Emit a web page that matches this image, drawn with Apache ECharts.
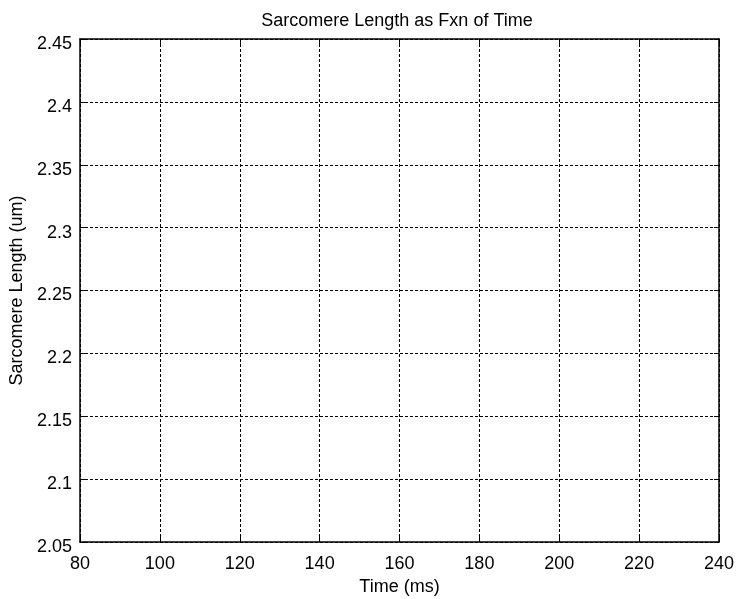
<!DOCTYPE html>
<html>
<head>
<meta charset="utf-8">
<script src="https://cdn.jsdelivr.net/npm/echarts@6/dist/echarts.min.js"></script>
<style>
html,body{margin:0;padding:0;background:#fff;}
#main{width:738px;height:599px;}
</style>
</head>
<body>
<div id="main"></div>
<script>
// axis ranges / ticks
var xTicks = [80, 100, 120, 140, 160, 180, 200, 220, 240];
var yTicks = [2.05, 2.1, 2.15, 2.2, 2.25, 2.3, 2.35, 2.4, 2.45];
// the plot shows no data line
var timeMs = [];
var sarcLen = [];

var font = '"Liberation Sans", Arial, sans-serif';

function fmt(v){ return String(parseFloat(v.toFixed(2))); }

var myChart = echarts.init(document.getElementById('main'));

var baseX = {
    type: 'value',
    min: xTicks[0],
    max: xTicks[xTicks.length - 1],
    interval: xTicks[1] - xTicks[0],
    axisLine: {show: true, lineStyle: {color: '#000', width: 1.5}},
    axisTick: {show: true, inside: true, length: 5, lineStyle: {color: '#000'}}
};
var baseY = {
    type: 'value',
    min: yTicks[0],
    max: yTicks[yTicks.length - 1],
    interval: 0.05,
    axisLine: {show: true, lineStyle: {color: '#000', width: 1.5}},
    axisTick: {show: true, inside: true, length: 5, lineStyle: {color: '#000'}}
};

var option = {
    animation: false,
    backgroundColor: '#fff',
    title: {
        text: 'Sarcomere Length as Fxn of Time',
        left: 392, top: 7, textAlign: 'center',
        textStyle: {fontFamily: font, fontSize: 18, fontWeight: 'normal', color: '#000'}
    },
    grid: {left: 80, top: 39, right: 19, bottom: 57, containLabel: false, outerBoundsMode: 'none'},
    xAxis: [
        Object.assign({}, baseX, {
            position: 'bottom',
            name: 'Time (ms)', nameLocation: 'middle', nameGap: 36,
            nameTextStyle: {fontFamily: font, fontSize: 18, color: '#000'},
            axisLabel: {margin: 13, fontFamily: font, fontSize: 18, color: '#000'},
            splitLine: {show: true, lineStyle: {color: '#000', type: [3, 2], width: 1}}
        }),
        Object.assign({}, baseX, {
            position: 'top',
            axisLabel: {show: false},
            splitLine: {show: false}
        })
    ],
    yAxis: [
        Object.assign({}, baseY, {
            position: 'left',
            name: 'Sarcomere Length (um)', nameLocation: 'middle', nameGap: 52,
            nameTextStyle: {fontFamily: font, fontSize: 18, color: '#000'},
            axisLabel: {margin: 8, fontFamily: font, fontSize: 18, color: '#000',
                verticalAlign: 'top', lineHeight: 10, formatter: fmt},
            splitLine: {show: true, lineStyle: {color: '#000', type: [3, 2], width: 1}}
        }),
        Object.assign({}, baseY, {
            position: 'right',
            axisLabel: {show: false},
            splitLine: {show: false}
        })
    ],
    series: [{
        type: 'line',
        data: timeMs.map(function (t, i) { return [t, sarcLen[i]]; }),
        showSymbol: false,
        lineStyle: {color: '#0000ff', width: 1}
    }]
};
myChart.setOption(option);
</script>
</body>
</html>
